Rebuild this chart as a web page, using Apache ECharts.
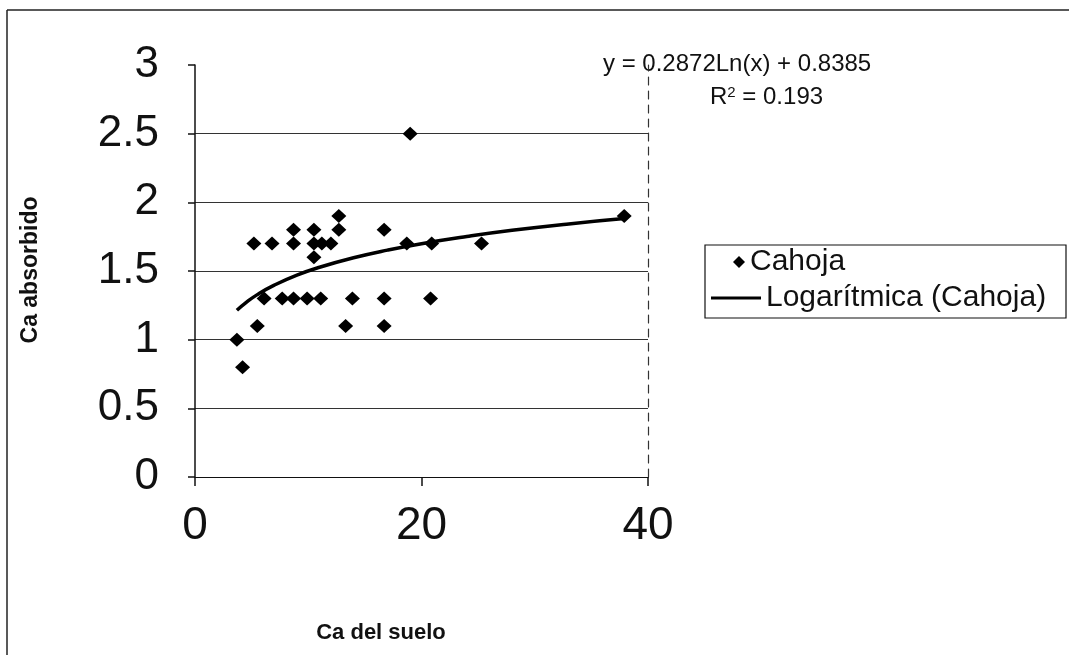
<!DOCTYPE html>
<html>
<head>
<meta charset="utf-8">
<script src="https://cdn.jsdelivr.net/npm/echarts@6/dist/echarts.min.js"></script>
<style>
  html, body { margin: 0; padding: 0; background: #fff; }
  #chart { width: 1069px; height: 655px; }
</style>
</head>
<body>
<div id="chart"></div>
<script>
// Ca del suelo (x) vs Ca absorbido (y), series "Cahoja"
const cahoja = [
  [19, 2.5],
  [12.7, 1.9], [37.9, 1.9],
  [8.7, 1.8], [10.5, 1.8], [12.7, 1.8], [16.7, 1.8],
  [5.2, 1.7], [6.8, 1.7], [8.7, 1.7], [10.5, 1.7], [11.2, 1.7], [12.0, 1.7],
  [18.7, 1.7], [20.9, 1.7], [25.3, 1.7],
  [10.5, 1.6],
  [6.1, 1.3], [7.7, 1.3], [8.7, 1.3], [9.9, 1.3], [11.1, 1.3], [13.9, 1.3],
  [16.7, 1.3], [20.8, 1.3],
  [5.5, 1.1], [13.3, 1.1], [16.7, 1.1],
  [3.7, 1.0],
  [4.2, 0.8]
];

// points
const trend = [
  [3.7, 1.214], [4.5, 1.270], [5.5, 1.328], [7, 1.397], [9, 1.470],
  [11, 1.527], [14, 1.596], [17, 1.652], [20, 1.699], [24, 1.751],
  [28, 1.796], [33, 1.843], [37.9, 1.882]
];

const eqText = 'y = 0.2872Ln(x) + 0.8385';
const r2Text = 'R{sup|2} = 0.193';
const xTitle = 'Ca del suelo';
const yTitle = 'Ca absorbido';

const font = '"Liberation Sans", Arial, sans-serif';
const ink = '#111';

let chart = echarts.init(document.getElementById('chart'), null, { renderer: 'canvas' });

const legendText = { fontSize: 30, color: ink, fontFamily: font };

chart.setOption({
  backgroundColor: '#fff',
  animation: false,
  textStyle: { fontFamily: font, color: ink },
  grid: { left: 195, right: 421, top: 65, bottom: 178, containLabel: false },
  xAxis: {
    type: 'value', min: 0, max: 40, interval: 20,
    axisLine: { show: true, onZero: false, lineStyle: { color: ink, width: 1 } },
    axisTick: { show: true, length: 9, lineStyle: { color: ink, width: 1.5 } },
    axisLabel: { fontSize: 46, color: ink, fontFamily: font, margin: 26 },
    splitLine: { show: false }
  },
  yAxis: [
    {
      type: 'value', min: 0, max: 3, interval: 0.5,
      axisLine: { show: true, onZero: false, lineStyle: { color: ink, width: 1.5 } },
      axisTick: { show: true, length: 7, lineStyle: { color: ink, width: 1.5 } },
      axisLabel: { fontSize: 44, color: ink, fontFamily: font, margin: 36 },
      splitLine: { show: true, showMaxLine: false, showMinLine: false, lineStyle: { color: '#333', width: 1.2 } }
    },
    {
      type: 'value', min: 0, max: 3, interval: 0.5, position: 'right',
      axisLine: { show: true, onZero: false, lineStyle: { color: '#333', width: 1.2, type: [8, 6] } },
      axisTick: { show: false },
      axisLabel: { show: false },
      splitLine: { show: false }
    }
  ],
  // two legends so each row gets its own icon size; the box is drawn below
  legend: [
    {
      orient: 'vertical', left: 733, top: 247, padding: 0,
      itemWidth: 12, itemHeight: 12,
      textStyle: legendText,
      data: [{ name: 'Cahoja', icon: 'diamond' }]
    },
    {
      orient: 'vertical', left: 711, top: 283, padding: 0,
      itemWidth: 50, itemHeight: 3,
      textStyle: legendText,
      data: [{ name: 'Logarítmica (Cahoja)', icon: 'rect' }]
    }
  ],
  graphic: [
    { type: 'line', shape: { x1: 7, y1: 10, x2: 1069, y2: 10 }, style: { stroke: '#222', lineWidth: 1.5 } },
    { type: 'line', shape: { x1: 7, y1: 10, x2: 7, y2: 655 }, style: { stroke: '#222', lineWidth: 1.5 } },
    { type: 'rect', shape: { x: 705, y: 245, width: 361, height: 73 }, style: { fill: 'none', stroke: ink, lineWidth: 1.2 } },
    {
      type: 'text', left: 603, top: 52,
      style: { text: eqText, font: '24px ' + font, fill: ink }
    },
    {
      type: 'text', left: 710, top: 85,
      style: {
        text: r2Text, font: '24px ' + font, fill: ink,
        rich: { sup: { fontSize: 15, verticalAlign: 'top', padding: [0, 0, 10, 0], fontFamily: font } }
      }
    },
    {
      type: 'text', x: 381, y: 633,
      style: { text: xTitle, font: 'bold 22px ' + font, fill: ink, align: 'center', verticalAlign: 'middle' }
    },
    {
      type: 'text', x: 31, y: 270, rotation: Math.PI / 2,
      style: { text: yTitle, font: 'bold 23px ' + font, fill: ink, align: 'center', verticalAlign: 'middle' }
    }
  ],
  series: [
    {
      name: 'Cahoja', type: 'scatter', data: cahoja,
      symbol: 'diamond', symbolSize: [15, 14],
      itemStyle: { color: '#000', opacity: 1 }, z: 3
    },
    {
      name: 'Logarítmica (Cahoja)', type: 'line', data: trend,
      smooth: true, showSymbol: false, symbol: 'none',
      lineStyle: { color: '#000', width: 3.5 }, itemStyle: { color: '#000' }, z: 4
    }
  ]
});

window.addEventListener('resize', () => chart.resize());
</script>
</body>
</html>
